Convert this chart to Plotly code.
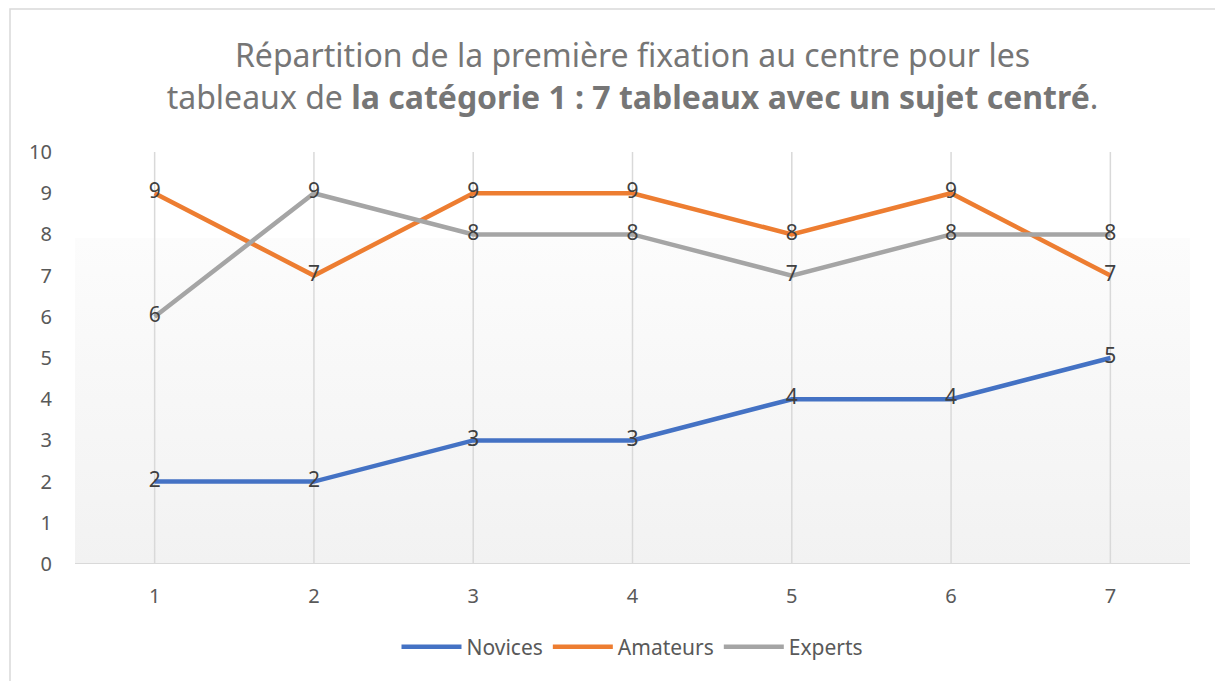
import plotly.graph_objects as go

categories = [1, 2, 3, 4, 5, 6, 7]
novices = [2, 2, 3, 3, 4, 4, 5]
amateurs = [9, 7, 9, 9, 8, 9, 7]
experts = [6, 9, 8, 8, 7, 8, 8]
y_ticks = [0, 1, 2, 3, 4, 5, 6, 7, 8, 9, 10]

W, H = 1215, 681
ML, MR, MT, MB = 75, 25, 152, 117
pw, ph = W - ML - MR, H - MT - MB

def px_x(p):
    return (p - ML) / pw

def px_y(p):
    return (H - MB - p) / ph

fig = go.Figure()

# background gradient in plot area
fig.add_trace(go.Scatter(
    x=[0.5, 7.5, 7.5, 0.5, 0.5], y=[0, 0, 10, 10, 0],
    mode="lines", line=dict(width=0), fill="toself",
    fillgradient=dict(type="vertical", start=0, stop=10,
                      colorscale=[[0, "#f2f2f2"], [0.79, "#fcfcfc"],
                                  [0.792, "#ffffff"], [1, "#ffffff"]]),
    showlegend=False, hoverinfo="skip"))

# vertical gridlines at categories (drawn above the gradient)
gx, gy = [], []
for c in categories:
    gx += [c, c, None]
    gy += [0, 10, None]
fig.add_trace(go.Scatter(x=gx, y=gy, mode="lines",
                         line=dict(color="#d9d9d9", width=1.5),
                         showlegend=False, hoverinfo="skip"))
# x axis baseline
fig.add_trace(go.Scatter(x=[0.5, 7.5], y=[0, 0], mode="lines",
                         line=dict(color="#d9d9d9", width=2),
                         showlegend=False, hoverinfo="skip"))

series = [("Novices", novices, "#4472C4"),
          ("Amateurs", amateurs, "#ED7D31"),
          ("Experts", experts, "#A5A5A5")]
for name, vals, col in series:
    fig.add_trace(go.Scatter(
        x=categories, y=vals, name=name, mode="lines+text",
        line=dict(color=col, width=4.5),
        text=[str(v) for v in vals], textposition="middle center",
        textfont=dict(family="Noto Sans", size=21, color="#404040")))

fig.update_layout(
    width=W, height=H,
    margin=dict(l=ML, r=MR, t=MT, b=MB),
    paper_bgcolor="white", plot_bgcolor="rgba(0,0,0,0)",
    title=dict(
        text="Répartition de la première fixation au centre pour les<br>tableaux de <b>la catégorie 1 : 7 tableaux avec un sujet centré</b>.",
        x=0.5, xanchor="center", xref="paper",
        y=1 - 67 / H, yanchor="top",
        font=dict(family="Noto Sans", size=32, color="#767676")),
    xaxis=dict(range=[0.5, 7.5], tickvals=categories, showgrid=False,
               zeroline=False, showline=False, ticks="", ticklabelstandoff=18,
               tickfont=dict(family="Noto Sans", size=20, color="#595959")),
    yaxis=dict(range=[0, 10], tickvals=y_ticks, showgrid=False,
               zeroline=False, showline=False, ticks="", ticklabelstandoff=22,
               tickfont=dict(family="Noto Sans", size=20, color="#595959")),
    legend=dict(orientation="h", x=0.5, xanchor="center", xref="paper",
                y=px_y(647), yanchor="middle",
                font=dict(family="Noto Sans", size=21, color="#595959"),
                itemwidth=60),
    showlegend=True,
)

# chart border
fig.add_shape(type="rect", xref="paper", yref="paper",
              x0=px_x(10), x1=px_x(1230), y0=px_y(9), y1=px_y(700),
              line=dict(color="#d9d9d9", width=1.5), fillcolor="rgba(0,0,0,0)")

fig.write_html("out.html", config={"displayModeBar": False},
               post_script="document.body.style.margin='0';document.body.style.overflow='hidden';")
